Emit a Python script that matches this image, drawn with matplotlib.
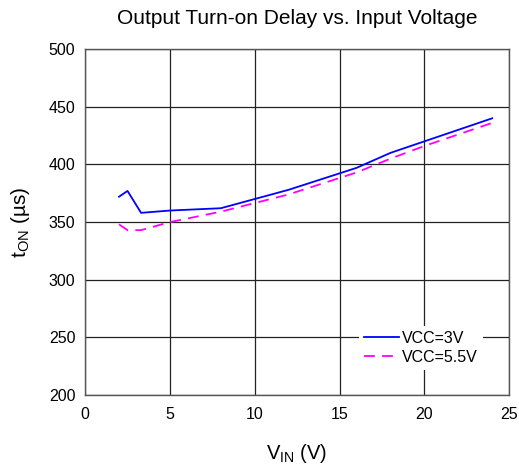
import matplotlib
matplotlib.use("Agg")
import matplotlib.pyplot as plt

# data
vin_3v = [2.0, 2.5, 3.3, 5, 8, 12, 16, 18, 20, 24]
ton_3v = [372, 377, 358, 360, 362, 378, 397, 410, 420, 440]
vin_55v = [2.0, 2.5, 3.3, 5, 8, 12, 16, 18, 20, 24]
ton_55v = [348, 343, 343, 350, 359, 374, 393, 405, 416, 436]
xticks = [0, 5, 10, 15, 20, 25]
yticks = [200, 250, 300, 350, 400, 450, 500]

plt.rcParams["font.family"] = ["Liberation Sans", "DejaVu Sans"]

fig = plt.figure(figsize=(5.19, 4.68), dpi=100)
ax = fig.add_axes([0.164, 0.156, 0.817, 0.739])

ax.plot(vin_3v, ton_3v, color="#0000ff", lw=1.3, label="VCC=3V")
ax.plot(vin_55v, ton_55v, color="#ff00ff", lw=1.3, ls=(0, (6, 4)), label="VCC=5.5V")

ax.set_xlim(0, 25)
ax.set_ylim(200, 500)
ax.set_xticks(xticks)
ax.set_yticks(yticks)
ax.grid(True, color="#222222", lw=0.9)
ax.set_axisbelow(True)
for s in ax.spines.values():
    s.set_color("#555555")
    s.set_linewidth(1.0)
ax.tick_params(length=0, labelsize=11.5)
ax.tick_params(axis="y", pad=7)
ax.tick_params(axis="x", pad=9)

ax.set_title("Output Turn-on Delay vs. Input Voltage", fontsize=15, pad=18)
ax.set_xlabel("V$_{\\mathregular{IN}}$ (V)", fontsize=14.5, labelpad=14)
ax.set_ylabel("t$_{\\mathregular{ON}}$ (\u00b5s)", fontsize=15, labelpad=12)

leg = ax.legend(loc="lower right", bbox_to_anchor=(0.957, 0.05), frameon=True,
                fontsize=11.5, handlelength=2.2, handletextpad=0.2,
                borderpad=0.3, labelspacing=0.25)
leg.get_frame().set_edgecolor("none")
leg.get_frame().set_facecolor("white")
leg.get_frame().set_alpha(1)
leg.get_frame().set_boxstyle("square", pad=0.0)

fig.savefig("out.png", dpi=100, facecolor="white")
